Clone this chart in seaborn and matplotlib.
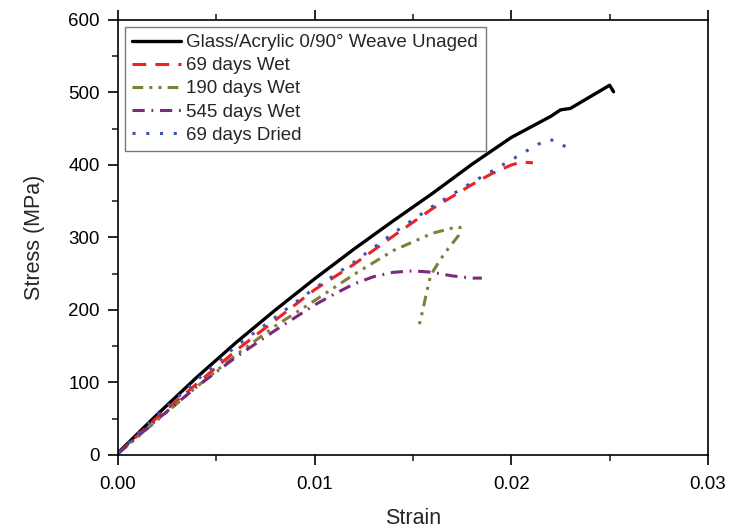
import numpy as np
import seaborn as sns
import pandas as pd
import matplotlib.pyplot as plt
from matplotlib.ticker import MultipleLocator, FormatStrFormatter

# strain / stress curves
unaged_x = [0, 0.002, 0.004, 0.006, 0.008, 0.010, 0.012, 0.014, 0.016, 0.018, 0.020, 0.022, 0.0225, 0.023, 0.024, 0.025, 0.0252]
unaged_y = [3, 56, 107, 155, 200, 243, 284, 323, 361, 401, 438, 467, 476, 478, 494, 510, 501]

wet69_x = [0, 0.002, 0.004, 0.006, 0.008, 0.010, 0.012, 0.014, 0.016, 0.018, 0.019, 0.020, 0.0205, 0.0211]
wet69_y = [2, 52, 98, 144, 186, 228, 263, 302, 340, 373, 388, 400, 404, 403]

wet190_x = [0, 0.002, 0.004, 0.006, 0.008, 0.010, 0.012, 0.014, 0.016, 0.017, 0.0174, 0.0173, 0.0168, 0.0164, 0.0159, 0.0157, 0.0155, 0.0153]
wet190_y = [2, 48, 94, 138, 178, 213, 249, 282, 306, 313, 314, 302, 285, 270, 248, 225, 200, 177]

wet545_x = [0, 0.002, 0.004, 0.006, 0.008, 0.010, 0.011, 0.012, 0.013, 0.014, 0.015, 0.016, 0.017, 0.018, 0.0185]
wet545_y = [2, 49, 94, 135, 172, 207, 222, 236, 246, 252, 254, 252, 247, 244, 244]

dried69_x = [0, 0.002, 0.004, 0.006, 0.008, 0.010, 0.012, 0.014, 0.016, 0.018, 0.020, 0.021, 0.0218, 0.0222, 0.0229]
dried69_y = [3, 55, 103, 150, 190, 230, 266, 306, 343, 376, 407, 423, 435, 434, 423]

labels = ['Glass/Acrylic 0/90° Weave Unaged', '69 days Wet', '190 days Wet',
          '545 days Wet', '69 days Dried']

sns.set_style('ticks')
plt.rcParams['font.family'] = ['Liberation Sans', 'DejaVu Sans']

fig = plt.figure(figsize=(7.31, 5.29), dpi=100)
ax = fig.add_axes([0.1614, 0.1399, 0.8071, 0.8223])

series = [
    (unaged_x, unaged_y, 'black', None, 2.4),
    (wet69_x, wet69_y, '#ee2222', (4.5, 3), 2.2),
    (wet190_x, wet190_y, '#7f7f3a', (3.5, 2, 1, 2, 1, 2), 2.2),
    (wet545_x, wet545_y, '#7a2a7e', (4, 2.2, 0.6, 2.2), 2.2),
    (dried69_x, dried69_y, '#3a55b0', (1, 3.5), 2.2),
]

for (x, y, c, dash, lw), lab in zip(series, labels):
    df = pd.DataFrame({'strain': x, 'stress': y})
    sns.lineplot(data=df, x='strain', y='stress', sort=False, estimator=None,
                 color=c, linewidth=lw, label=lab, ax=ax)
    if dash is not None:
        ax.lines[-1].set_dashes(dash)

ax.set_xlim(0, 0.03)
ax.set_ylim(0, 600)
ax.xaxis.set_major_locator(MultipleLocator(0.01))
ax.xaxis.set_minor_locator(MultipleLocator(0.005))
ax.xaxis.set_major_formatter(FormatStrFormatter('%.2f'))
ax.yaxis.set_major_locator(MultipleLocator(100))
ax.yaxis.set_minor_locator(MultipleLocator(50))
ax.tick_params(axis='x', which='both', top=True, direction='out')
ax.tick_params(axis='both', which='major', length=7, width=1.2, labelsize=13.5, colors='black')
ax.tick_params(axis='x', which='major', pad=8)
ax.tick_params(axis='y', which='major', pad=6)
ax.tick_params(axis='both', which='minor', length=4, width=1.2)
for s in ax.spines.values():
    s.set_linewidth(1.2)
    s.set_color('black')

ax.set_xlabel('Strain', fontsize=15.5, labelpad=11)
ax.set_ylabel('Stress (MPa)', fontsize=15.5, labelpad=17)

leg = ax.legend(loc='upper left', fontsize=13.5, frameon=True, fancybox=False,
                edgecolor='#555555', handlelength=2.6, borderpad=0.4,
                labelspacing=0.32, handletextpad=0.3, borderaxespad=0.35)
leg.get_frame().set_linewidth(1.0)

plt.savefig('out.png', dpi=100)
